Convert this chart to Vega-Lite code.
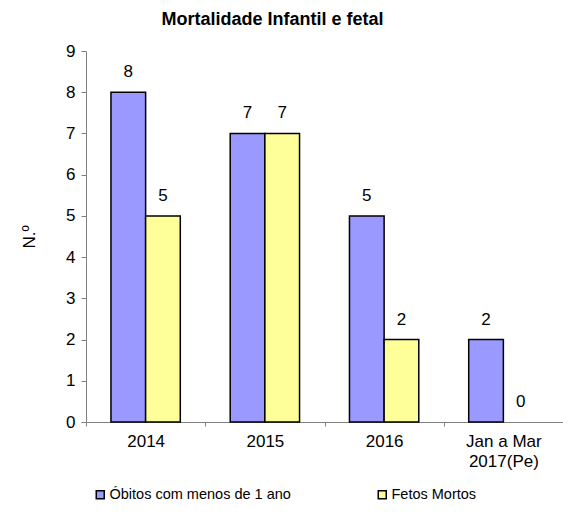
{
  "$schema": "https://vega.github.io/schema/vega-lite/v6.json",
  "width": 477,
  "height": 371,
  "autosize": {"type": "none"},
  "padding": {"left": 86, "top": 51, "right": 0, "bottom": 100},
  "background": "white",
  "config": {
    "font": "Liberation Sans",
    "view": {"stroke": null}
  },
  "title": {
    "text": "Mortalidade Infantil e fetal",
    "fontSize": 18,
    "fontWeight": "bold",
    "font": "Liberation Sans",
    "color": "black",
    "anchor": "middle",
    "dx": -52,
    "offset": 13
  },
  "data": {
    "values": [
      {"periodo": "2014", "serie": "Óbitos com menos de 1 ano", "valor": 8},
      {"periodo": "2014", "serie": "Fetos Mortos", "valor": 5},
      {"periodo": "2015", "serie": "Óbitos com menos de 1 ano", "valor": 7},
      {"periodo": "2015", "serie": "Fetos Mortos", "valor": 7},
      {"periodo": "2016", "serie": "Óbitos com menos de 1 ano", "valor": 5},
      {"periodo": "2016", "serie": "Fetos Mortos", "valor": 2},
      {"periodo": "Jan a Mar 2017(Pe)", "serie": "Óbitos com menos de 1 ano", "valor": 2},
      {"periodo": "Jan a Mar 2017(Pe)", "serie": "Fetos Mortos", "valor": 0}
    ]
  },
  "encoding": {
    "x": {
      "field": "periodo",
      "type": "nominal",
      "sort": null,
      "scale": {"paddingInner": 0, "paddingOuter": 0},
      "axis": {
        "title": null,
        "labelAngle": 0,
        "labelFontSize": 17,
        "labelColor": "black",
        "labelPadding": 7,
        "labelLineHeight": 20,
        "tickBand": "extent",
        "tickSize": 4,
        "tickColor": "#808080",
        "domainColor": "#808080",
        "labelExpr": "datum.value == 'Jan a Mar 2017(Pe)' ? ['Jan a Mar', '2017(Pe)'] : datum.value"
      }
    },
    "xOffset": {
      "field": "serie",
      "type": "nominal",
      "sort": ["Óbitos com menos de 1 ano", "Fetos Mortos"],
      "scale": {"paddingInner": 0, "paddingOuter": 0.72}
    },
    "y": {
      "field": "valor",
      "type": "quantitative",
      "scale": {"domain": [0, 9], "nice": false},
      "axis": {
        "title": "N.º",
        "titleFontSize": 17,
        "titleFontWeight": "normal",
        "titleColor": "black",
        "titlePadding": 27,
        "values": [0, 1, 2, 3, 4, 5, 6, 7, 8, 9],
        "grid": false,
        "labelFontSize": 17,
        "labelColor": "black",
        "labelPadding": 6,
        "tickSize": 5,
        "tickColor": "#808080",
        "domainColor": "#808080"
      }
    }
  },
  "layer": [
    {
      "mark": {"type": "bar", "strokeWidth": 1.5},
      "encoding": {
        "stroke": {
          "condition": {"test": "datum.valor == 0", "value": null},
          "value": "black"
        },
        "color": {
          "field": "serie",
          "type": "nominal",
          "sort": ["Óbitos com menos de 1 ano", "Fetos Mortos"],
          "scale": {
            "domain": ["Óbitos com menos de 1 ano", "Fetos Mortos"],
            "range": ["#9999FF", "#FFFF99"]
          },
          "legend": {
            "title": null,
            "orient": "none",
            "direction": "horizontal",
            "legendX": 7,
            "legendY": 436,
            "symbolType": "square",
            "symbolSize": 64,
            "symbolStrokeColor": "black",
            "symbolStrokeWidth": 1.5,
            "labelFontSize": 14.5,
            "labelColor": "black",
            "labelLimit": 400,
            "labelOffset": 2,
            "columnPadding": 84
          }
        }
      }
    },
    {
      "mark": {"type": "text", "baseline": "bottom", "dy": -11, "fontSize": 17, "color": "black"},
      "encoding": {
        "text": {"field": "valor", "type": "quantitative"}
      }
    }
  ]
}
